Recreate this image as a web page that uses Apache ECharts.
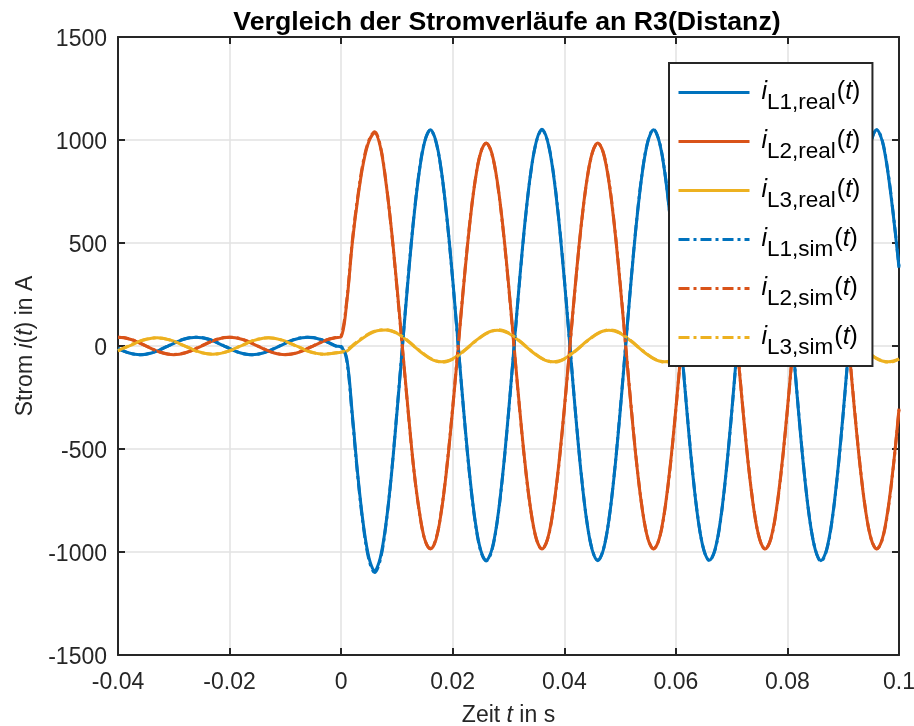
<!DOCTYPE html>
<html>
<head>
<meta charset="utf-8">
<title>Vergleich der Stromverläufe an R3(Distanz)</title>
<script src="https://cdn.jsdelivr.net/npm/echarts@6/dist/echarts.min.js"></script>
<style>
  html, body { margin: 0; padding: 0; background: #fff; }
  #chart { width: 914px; height: 726px; }
</style>
</head>
<body>
<div id="chart"></div>
<script>
// sample grid: t = -40 ms ... 100 ms, one value per ms
const T_START_MS = -40;
const T_STEP_MS = 1;

const xTicks = [-0.04, -0.02, 0, 0.02, 0.04, 0.06, 0.08, 0.1];
const xTickLabels = ["-0.04", "-0.02", "0", "0.02", "0.04", "0.06", "0.08", "0.1"];
const yTickLabels = ["-1500", "-1000", "-500", "0", "500", "1000", "1500"];

const seriesNames = ["L1,real", "L2,real", "L3,real", "L1,sim", "L2,sim", "L3,sim"];

// measured currents in A
const iL1Real = [
  -13, -25, -34, -40, -42, -40, -34, -25, -13, 0, 13, 25, 34, 40, 43, 40, 34, 25, 13, 0,
  -13, -25, -34, -40, -42, -40, -34, -25, -13, 0, 13, 25, 34, 40, 43, 40, 34, 25, 13, 0,
  -5, -60, -330, -630, -870, -1030, -1090, -1030, -870, -630, -325,
  0, 323, 614, 845, 994, 1050, 994, 845, 614, 323,
  0, -323, -614, -845, -990, -1040, -990, -845, -614, -323,
  0, 323, 614, 845, 994, 1052, 994, 845, 614, 323,
  0, -323, -614, -845, -990, -1042, -990, -845, -614, -323,
  0, 323, 614, 845, 994, 1050, 994, 845, 614, 323,
  0, -323, -614, -845, -990, -1040, -990, -845, -614, -323,
  0, 323, 614, 845, 994, 1052, 994, 845, 614, 323,
  0, -323, -614, -845, -990, -1042, -990, -845, -614, -323,
  0, 323, 614, 845, 994, 1050, 994, 845, 630, 380
];
const iL2Real = [
  42, 40, 34, 25, 13, 0, -13, -25, -34, -40, -42, -40, -34, -25, -13, 0, 13, 25, 34, 40,
  42, 40, 34, 25, 13, 0, -13, -25, -34, -40, -42, -40, -34, -25, -13, 0, 13, 25, 34, 40,
  45, 210, 500, 720, 890, 995, 1034, 970, 800, 570, 290,
  -10, -310, -590, -800, -940, -985, -940, -797, -579, -304,
  0, 304, 579, 797, 937, 985, 937, 797, 579, 304,
  0, -304, -579, -797, -937, -985, -937, -797, -579, -304,
  0, 304, 579, 797, 937, 985, 937, 797, 579, 304,
  0, -304, -579, -797, -937, -985, -937, -797, -579, -304,
  0, 304, 579, 797, 937, 985, 937, 797, 579, 304,
  0, -304, -579, -797, -937, -985, -937, -797, -579, -304,
  0, 304, 579, 797, 937, 985, 937, 797, 579, 304,
  0, -304, -579, -797, -937, -985, -937, -797, -579, -304
];
const iL3Real = [
  -24, -12, 0, 12, 24, 32, 38, 40, 38, 32, 24, 12, 0, -12, -24, -32, -38, -40, -38, -32,
  -24, -12, 0, 12, 24, 32, 38, 40, 38, 32, 24, 12, 0, -12, -24, -32, -38, -40, -38, -34,
  -30, -25, -2, 20, 40, 57, 70, 76, 78, 73, 62,
  44, 23, 0, -23, -44, -62, -73, -77, -73, -62,
  -44, -23, 0, 23, 44, 62, 73, 77, 73, 62,
  44, 23, 0, -23, -44, -62, -73, -77, -73, -62,
  -44, -23, 0, 23, 44, 62, 73, 77, 73, 62,
  44, 23, 0, -23, -44, -62, -73, -77, -73, -62,
  -44, -23, 0, 23, 44, 62, 73, 77, 73, 62,
  44, 23, 0, -23, -44, -62, -73, -77, -73, -62,
  -44, -23, 0, 23, 44, 62, 73, 77, 73, 62,
  44, 23, 0, -23, -44, -62, -73, -77, -73, -62
];

// simulated currents in A
const iL1Sim = [
  -12, -24, -34, -40, -43, -40, -33, -24, -12, 1, 14, 26, 35, 41, 43, 41, 35, 26, 14, 1,
  -12, -24, -34, -40, -43, -40, -33, -24, -12, 1, 14, 26, 35, 41, 43, 41, 35, 26, 14, 1,
  -2, -70, -345, -640, -880, -1040, -1100, -1040, -875, -625, -318,
  5, 330, 620, 850, 996, 1048, 990, 840, 608, 318,
  -5, -328, -620, -850, -994, -1044, -994, -848, -618, -328,
  -5, 318, 610, 842, 992, 1049, 996, 849, 620, 330,
  5, -318, -610, -842, -988, -1040, -988, -842, -610, -318,
  5, 328, 618, 848, 996, 1052, 996, 848, 618, 328,
  5, -318, -610, -842, -988, -1042, -992, -848, -618, -328,
  -5, 318, 610, 842, 992, 1050, 996, 849, 620, 330,
  5, -318, -610, -842, -988, -1046, -994, -848, -618, -328,
  -5, 318, 610, 842, 992, 1050, 998, 850, 636, 386
];
const iL2Sim = [
  43, 41, 35, 26, 14, 1, -12, -24, -33, -39, -41, -39, -33, -24, -12, 1, 14, 26, 35, 41,
  43, 41, 35, 26, 14, 1, -12, -24, -33, -39, -41, -39, -33, -24, -12, 1, 14, 26, 35, 41,
  50, 220, 510, 730, 900, 1000, 1040, 975, 805, 565, 282,
  -18, -316, -594, -802, -940, -983, -936, -792, -572, -296,
  8, 310, 584, 800, 938, 984, 934, 792, 572, 296,
  -8, -310, -584, -800, -938, -986, -938, -800, -584, -310,
  -5, 298, 574, 794, 935, 986, 940, 802, 584, 310,
  5, -298, -574, -794, -935, -984, -938, -800, -584, -310,
  -5, 298, 574, 794, 935, 986, 940, 802, 584, 310,
  5, -298, -574, -794, -935, -986, -940, -802, -584, -310,
  -5, 298, 574, 794, 935, 985, 940, 802, 584, 310,
  5, -298, -574, -794, -935, -984, -940, -802, -584, -310
];
const iL3Sim = [
  -22, -10, 2, 14, 25, 33, 38, 40, 37, 31, 23, 11, -1, -13, -25, -33, -38, -40, -37, -31,
  -23, -11, 1, 13, 25, 33, 38, 40, 37, 31, 23, 11, -1, -13, -25, -33, -38, -40, -37, -33,
  -28, -20, 2, 24, 43, 60, 72, 78, 79, 74, 63,
  46, 25, 2, -21, -42, -60, -72, -78, -75, -64,
  -46, -25, -2, 21, 42, 60, 72, 79, 75, 64,
  46, 25, 2, -21, -42, -60, -72, -78, -75, -64,
  -46, -25, -2, 21, 42, 60, 72, 79, 75, 64,
  46, 25, 2, -21, -42, -60, -72, -78, -75, -64,
  -46, -25, -2, 21, 42, 60, 72, 79, 75, 64,
  46, 25, 2, -21, -42, -60, -72, -78, -75, -64,
  -46, -25, -2, 21, 42, 60, 72, 79, 75, 64,
  46, 25, 2, -21, -42, -60, -72, -78, -75, -64
];

const FONT = "Liberation Sans";
const AXIS_COLOR = "#262626";
const GRID_COLOR = "#e2e2e2";
const colors = ["#0072BD", "#D95319", "#EDB120"];
const DASH_DOT = [11, 4, 3, 4];

function withTime(values) {
  return values.map((v, i) => [(T_START_MS + i * T_STEP_MS) / 1000, v]);
}

function xLabel(v) {
  const idx = xTicks.findIndex((t) => Math.abs(t - v) < 1e-9);
  return idx >= 0 ? xTickLabels[idx] : "";
}

function yLabel(v) {
  const idx = Math.round((v + 1500) / 500);
  return yTickLabels[idx] ? "{a|" + yTickLabels[idx] + "}" : "";
}

const chart = echarts.init(document.getElementById("chart"), null, { renderer: "canvas" });

const frameAxis = {
  axisLine: { show: true, onZero: false, lineStyle: { color: AXIS_COLOR, width: 2 } },
  axisTick: { show: true, inside: true, length: 7, lineStyle: { color: AXIS_COLOR, width: 2 } },
  axisLabel: { show: false },
  splitLine: { show: false }
};

const series = [
  { name: seriesNames[0], data: withTime(iL1Real), color: colors[0], dash: "solid" },
  { name: seriesNames[1], data: withTime(iL2Real), color: colors[1], dash: "solid" },
  { name: seriesNames[2], data: withTime(iL3Real), color: colors[2], dash: "solid" },
  { name: seriesNames[3], data: withTime(iL1Sim), color: colors[0], dash: DASH_DOT },
  { name: seriesNames[4], data: withTime(iL2Sim), color: colors[1], dash: DASH_DOT },
  { name: seriesNames[5], data: withTime(iL3Sim), color: colors[2], dash: DASH_DOT }
].map((s) => ({
  name: s.name,
  type: "line",
  data: s.data,
  symbol: "none",
  showSymbol: false,
  smooth: 0.35,
  color: s.color,
  lineStyle: { color: s.color, width: 3, type: s.dash },
  xAxisIndex: 0,
  yAxisIndex: 0
}));

const option = {
  animation: false,
  backgroundColor: "#ffffff",
  textStyle: { fontFamily: FONT },
  title: {
    text: "Vergleich der Stromverläufe an R3(Distanz)",
    left: 502,
    textAlign: "center",
    top: 4,
    textStyle: { fontFamily: FONT, fontSize: 26.7, fontWeight: "bold", color: "#000" }
  },
  grid: { left: 118, right: 15, top: 37, bottom: 71, containLabel: false, outerBoundsMode: "none" },
  legend: {
    orient: "vertical",
    left: 669,
    top: 63,
    padding: [8, 12, 7, 8],
    itemWidth: 71,
    itemHeight: 14,
    itemGap: 6,
    selectedMode: false,
    backgroundColor: "#ffffff",
    borderColor: AXIS_COLOR,
    borderWidth: 2,
    borderRadius: 0,
    itemStyle: { opacity: 0 },
    lineStyle: { width: 3 },
    data: seriesNames,
    formatter: (name) => "{i0|i}{s|" + name + "}{p|(}{t|t}{p|)}",
    textStyle: {
      fontFamily: FONT,
      color: "#000",
      rich: {
        i0: { fontFamily: FONT, fontSize: 25, fontStyle: "italic", padding: [0, 0, 0, 7], lineHeight: 40 },
        s: { fontFamily: FONT, fontSize: 22.5, padding: [20, 1, 0, 0], lineHeight: 40 },
        p: { fontFamily: FONT, fontSize: 25, lineHeight: 40 },
        t: { fontFamily: FONT, fontSize: 25, fontStyle: "italic", lineHeight: 40 }
      }
    }
  },
  xAxis: [
    {
      type: "value",
      position: "bottom",
      min: -0.04,
      max: 0.1,
      interval: 0.02,
      name: "{n|Zeit }{it|t}{n| in s}",
      nameLocation: "middle",
      nameGap: 49,
      nameTextStyle: {
        rich: {
          n: { fontFamily: FONT, fontSize: 23, color: AXIS_COLOR },
          it: { fontFamily: FONT, fontSize: 23, fontStyle: "italic", color: AXIS_COLOR }
        }
      },
      axisLine: { show: true, onZero: false, lineStyle: { color: AXIS_COLOR, width: 2 } },
      axisTick: { show: true, inside: true, length: 7, lineStyle: { color: AXIS_COLOR, width: 2 } },
      axisLabel: {
        show: true,
        margin: 16,
        fontFamily: FONT,
        fontSize: 23,
        color: AXIS_COLOR,
        formatter: xLabel,
        showMinLabel: true,
        showMaxLabel: true
      },
      splitLine: { show: true, lineStyle: { color: GRID_COLOR, width: 1.5 } }
    },
    Object.assign({ type: "value", position: "top", min: -0.04, max: 0.1, interval: 0.02 }, frameAxis)
  ],
  yAxis: [
    {
      type: "value",
      position: "left",
      min: -1500,
      max: 1500,
      interval: 500,
      name: "{n|Strom }{it|i}{n|(}{it|t}{n|) in A}",
      nameLocation: "middle",
      nameGap: 80,
      nameRotate: 90,
      nameTextStyle: {
        rich: {
          n: { fontFamily: FONT, fontSize: 23, color: AXIS_COLOR },
          it: { fontFamily: FONT, fontSize: 23, fontStyle: "italic", color: AXIS_COLOR }
        }
      },
      axisLine: { show: true, onZero: false, lineStyle: { color: AXIS_COLOR, width: 2 } },
      axisTick: { show: true, inside: true, length: 7, lineStyle: { color: AXIS_COLOR, width: 2 } },
      axisLabel: {
        show: true,
        margin: 11,
        fontFamily: FONT,
        fontSize: 23,
        color: AXIS_COLOR,
        formatter: yLabel,
        rich: {
          a: { fontFamily: FONT, fontSize: 23, color: AXIS_COLOR, padding: [5, 0, 0, 0] }
        }
      },
      splitLine: { show: true, lineStyle: { color: GRID_COLOR, width: 1.5 } }
    },
    Object.assign({ type: "value", position: "right", min: -1500, max: 1500, interval: 500 }, frameAxis)
  ],
  series: series
};

chart.setOption(option);
</script>
</body>
</html>
